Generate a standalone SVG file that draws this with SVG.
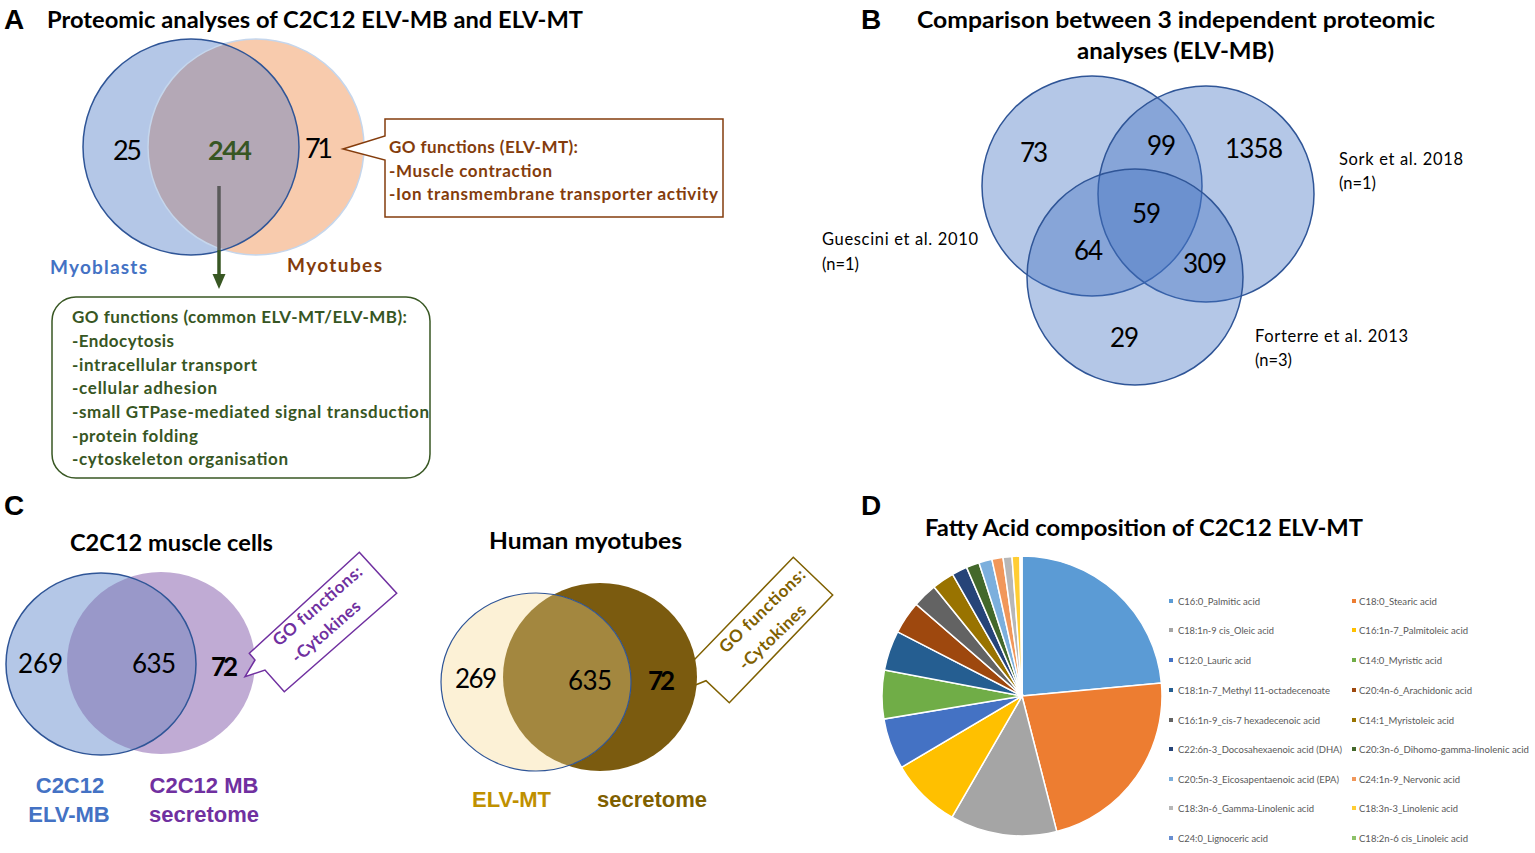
<svg xmlns="http://www.w3.org/2000/svg" width="1535" height="853" viewBox="0 0 1535 853">
<style>
.c{font-family:Lato,"Open Sans","Liberation Sans",sans-serif}
.a{font-family:"Liberation Sans",Arial,sans-serif;font-weight:bold}
.b{font-weight:bold}
.h{font-family:"Liberation Sans",Arial,sans-serif;font-weight:bold;font-size:28px}
.t{font-size:22px;font-weight:bold}
.n{font-size:27px}
.lg{font-size:9.8px;fill:#595959}
.sl{stroke:#fff;stroke-width:1.5}
</style>
<defs>
<clipPath id="clipA"><circle cx="191" cy="147" r="108"/></clipPath>
<clipPath id="clipC1"><ellipse cx="101" cy="664" rx="95" ry="91"/></clipPath>
<clipPath id="clipC2"><ellipse cx="536" cy="682" rx="95" ry="89"/></clipPath>
</defs>
<rect width="1535" height="853" fill="#fff"/>

<!-- Panel A -->
<g id="panelA-title">
<text class="h" x="4" y="29">A</text>
<text class="c t" x="47" y="28" textLength="536" lengthAdjust="spacingAndGlyphs">Proteomic analyses of C2C12 ELV-MB and ELV-MT</text>
</g>
<g id="venn-A">
<circle cx="256" cy="147" r="108" fill="#f8cbad"/>
<circle cx="191" cy="147" r="108" fill="#b4c7e7"/>
<circle cx="256" cy="147" r="108" fill="#b4a8b6" clip-path="url(#clipA)"/>
<circle cx="256" cy="147" r="108" fill="none" stroke="#c5d6ec" stroke-width="1.5"/>
<circle cx="191" cy="147" r="108" fill="none" stroke="#2f5597" stroke-width="1.5"/>
<text class="c n" x="113" y="160" textLength="29">25</text>
<text class="c n b" x="208" y="160" fill="#375623" textLength="44">244</text>
<text class="c n" x="305" y="158" textLength="28">71</text>
</g>
<g id="label-myoblasts"><text class="c b" x="50" y="274" font-size="19" fill="#4472c4" textLength="97">Myoblasts</text></g>
<g id="label-myotubes"><text class="c b" x="287" y="272" font-size="19" fill="#843c0c" textLength="95">Myotubes</text></g>
<g id="connectors">
<line x1="219" y1="186" x2="219" y2="250" stroke="#5a5a5a" stroke-width="3.5"/>
<line x1="219" y1="250" x2="219" y2="276" stroke="#385723" stroke-width="3.5"/>
<polygon points="212.5,274 225.5,274 219,289" fill="#385723"/>
</g>
<g id="callout-MT">
<path d="M385,119 H723 V217 H385 V160 L343,149 L385,136 Z" fill="#fff" stroke="#843c0c" stroke-width="1.5"/>
<g class="c b" font-size="17" fill="#843c0c">
<text x="389" y="153" textLength="189">GO functions (ELV-MT):</text>
<text x="389" y="177" textLength="163">-Muscle contraction</text>
<text x="389" y="200" textLength="329">-Ion transmembrane transporter activity</text>
</g>
</g>
<g id="box-common">
<rect x="52" y="297" width="378" height="181" rx="24" fill="#fff" stroke="#385723" stroke-width="1.5"/>
<g class="c b" font-size="17" fill="#375623">
<text x="72" y="323" textLength="335">GO functions (common ELV-MT/ELV-MB):</text>
<text x="72" y="347" textLength="102">-Endocytosis</text>
<text x="72" y="371" textLength="185">-intracellular transport</text>
<text x="72" y="394" textLength="145">-cellular adhesion</text>
<text x="72" y="418" textLength="357">-small GTPase-mediated signal transduction</text>
<text x="72" y="442" textLength="126">-protein folding</text>
<text x="72" y="465" textLength="216">-cytoskeleton organisation</text>
</g>
</g>

<!-- Panel B -->
<g id="panelB-title">
<text class="h" x="861" y="29">B</text>
<text class="c t" x="917" y="28" textLength="518" lengthAdjust="spacingAndGlyphs">Comparison between 3 independent proteomic</text>
<text class="c t" x="1077" y="59" textLength="197" lengthAdjust="spacingAndGlyphs">analyses (ELV-MB)</text>
</g>
<g id="venn-B">
<g fill="#4472c4" fill-opacity="0.4" stroke="#2f5597" stroke-width="1.5">
<circle cx="1092" cy="186" r="110"/>
<circle cx="1206" cy="194" r="108"/>
<circle cx="1135" cy="277" r="108"/>
</g>
<g class="c" font-size="26">
<text x="1020" y="162" textLength="28">73</text>
<text x="1147" y="155" textLength="29">99</text>
<text x="1225" y="158" textLength="58">1358</text>
<text x="1132" y="223" textLength="29">59</text>
<text x="1074" y="260" textLength="29">64</text>
<text x="1183" y="273" textLength="44">309</text>
<text x="1110" y="347" textLength="29">29</text>
</g>
</g>
<g id="label-sork" class="c" font-size="16.5"><text x="1339" y="165" textLength="124">Sork et al. 2018</text><text x="1339" y="189">(n=1)</text></g>
<g id="label-guescini" class="c" font-size="16.5"><text x="822" y="245" textLength="156">Guescini et al. 2010</text><text x="822" y="270">(n=1)</text></g>
<g id="label-forterre" class="c" font-size="16.5"><text x="1255" y="342" textLength="153">Forterre et al. 2013</text><text x="1255" y="366">(n=3)</text></g>

<!-- Panel C -->
<g id="panelC-title">
<text class="h" x="4" y="515">C</text>
<text class="c t" x="70" y="551" textLength="203" lengthAdjust="spacingAndGlyphs">C2C12 muscle cells</text>
<text class="c t" x="489" y="549" textLength="193" lengthAdjust="spacingAndGlyphs">Human myotubes</text>
</g>
<g id="venn-C1">
<ellipse cx="161" cy="663" rx="94" ry="91" fill="#c0abd4"/>
<ellipse cx="101" cy="664" rx="95" ry="91" fill="#b4c7e7"/>
<ellipse cx="161" cy="663" rx="94" ry="91" fill="#9998c9" clip-path="url(#clipC1)"/>
<ellipse cx="101" cy="664" rx="95" ry="91" fill="none" stroke="#2f5597" stroke-width="1.5"/>
<g class="c" font-size="26">
<text x="18" y="673" textLength="45">269</text>
<text x="132" y="673" textLength="44">635</text>
<text x="211" y="676" class="b" textLength="27">72</text>
</g>
</g>
<g id="callout-C1">
<path d="M359.3,552.3 L396.7,593.3 L284.3,691.7 L265,670 L245,676.7 L255,660 L249.3,653.3 Z" fill="#fff" stroke="#7030a0" stroke-width="1.5"/>
<g class="c b" font-size="17" fill="#7030a0" transform="translate(279,647) rotate(-41)">
<text x="0" y="0" textLength="112">GO functions:</text>
<text x="3" y="25" textLength="85">-Cytokines</text>
</g>
</g>
<g id="label-C2C12-ELVMB" class="a" font-size="22" fill="#4472c4" text-anchor="middle"><text x="70" y="793">C2C12</text><text x="69" y="822">ELV-MB</text></g>
<g id="label-C2C12-secretome" class="a" font-size="22" fill="#7030a0" text-anchor="middle"><text x="204" y="793">C2C12 MB</text><text x="204" y="822">secretome</text></g>

<g id="callout-C2">
<path d="M793.3,557.3 L832.7,595 L729.3,702.7 L706,680.7 L688,688 L694,660 Z" fill="#fff" stroke="#7f6000" stroke-width="1.5"/>
<g class="c b" font-size="17" fill="#7f6000" transform="translate(726,654) rotate(-44)">
<text x="0" y="0" textLength="112">GO functions:</text>
<text x="2" y="26" textLength="86">-Cytokines</text>
</g>
</g>
<g id="venn-C2">
<ellipse cx="600" cy="677" rx="97" ry="94" fill="#7b5b0f"/>
<ellipse cx="536" cy="682" rx="95" ry="89" fill="#fcf1d6"/>
<ellipse cx="600" cy="677" rx="97" ry="94" fill="#a3873f" clip-path="url(#clipC2)"/>
<ellipse cx="536" cy="682" rx="95" ry="89" fill="none" stroke="#2f5597" stroke-width="1.2"/>
<g class="c" font-size="26">
<text x="455" y="688" textLength="42">269</text>
<text x="568" y="690" textLength="44">635</text>
<text x="648" y="690" class="b" textLength="27">72</text>
</g>
</g>
<g id="label-ELVMT" class="a" font-size="22" fill="#bf9000"><text x="472" y="807">ELV-MT</text></g>
<g id="label-secretome" class="a" font-size="22" fill="#7f6000"><text x="597" y="807">secretome</text></g>

<!-- Panel D -->
<g id="panelD-title">
<text class="h" x="861" y="515">D</text>
<text class="c t" x="925" y="536" textLength="438" lengthAdjust="spacingAndGlyphs">Fatty Acid composition of C2C12 ELV-MT</text>
</g>
<g id="pie">
<path class="sl" fill="#5b9bd5" d="M1022,696 L1022,556 A140,140 0 0 1 1161.4,683.1 Z"/>
<path class="sl" fill="#ed7d31" d="M1022,696 L1161.4,683.1 A140,140 0 0 1 1056.8,831.6 Z"/>
<path class="sl" fill="#a5a5a5" d="M1022,696 L1056.8,831.6 A140,140 0 0 1 952,817.2 Z"/>
<path class="sl" fill="#ffc000" d="M1022,696 L952,817.2 A140,140 0 0 1 901.5,767.3 Z"/>
<path class="sl" fill="#4472c4" d="M1022,696 L901.5,767.3 A140,140 0 0 1 883.9,719.1 Z"/>
<path class="sl" fill="#70ad47" d="M1022,696 L883.9,719.1 A140,140 0 0 1 884.4,670 Z"/>
<path class="sl" fill="#255e91" d="M1022,696 L884.4,670 A140,140 0 0 1 897.6,631.8 Z"/>
<path class="sl" fill="#9e480e" d="M1022,696 L897.6,631.8 A140,140 0 0 1 916.2,604.3 Z"/>
<path class="sl" fill="#636363" d="M1022,696 L916.2,604.3 A140,140 0 0 1 934.1,587 Z"/>
<path class="sl" fill="#997300" d="M1022,696 L934.1,587 A140,140 0 0 1 952.6,574.4 Z"/>
<path class="sl" fill="#264478" d="M1022,696 L952.6,574.4 A140,140 0 0 1 966.6,567.4 Z"/>
<path class="sl" fill="#43682b" d="M1022,696 L966.6,567.4 A140,140 0 0 1 979,562.8 Z"/>
<path class="sl" fill="#7cafdd" d="M1022,696 L979,562.8 A140,140 0 0 1 991.9,559.3 Z"/>
<path class="sl" fill="#f1975a" d="M1022,696 L991.9,559.3 A140,140 0 0 1 1003,557.3 Z"/>
<path class="sl" fill="#b7b7b7" d="M1022,696 L1003,557.3 A140,140 0 0 1 1012,556.4 Z"/>
<path class="sl" fill="#ffcd33" d="M1022,696 L1012,556.4 A140,140 0 0 1 1020,556 Z"/>
<path class="sl" fill="#698ed0" d="M1022,696 L1020,556 A140,140 0 0 1 1021,556 Z"/>
<path class="sl" fill="#8cc168" d="M1022,696 L1021,556 A140,140 0 0 1 1022,556 Z"/>
</g>
<g id="legend" class="c lg">
<rect x="1169" y="599" width="4" height="4" fill="#5b9bd5"/><text x="1178" y="605" textLength="82" lengthAdjust="spacingAndGlyphs">C16:0_Palmitic acid</text>
<rect x="1169" y="628" width="4" height="4" fill="#a5a5a5"/><text x="1178" y="634" textLength="96" lengthAdjust="spacingAndGlyphs">C18:1n-9 cis_Oleic acid</text>
<rect x="1169" y="658" width="4" height="4" fill="#4472c4"/><text x="1178" y="664" textLength="73" lengthAdjust="spacingAndGlyphs">C12:0_Lauric acid</text>
<rect x="1169" y="688" width="4" height="4" fill="#255e91"/><text x="1178" y="694" textLength="152" lengthAdjust="spacingAndGlyphs">C18:1n-7_Methyl 11-octadecenoate</text>
<rect x="1169" y="718" width="4" height="4" fill="#636363"/><text x="1178" y="724" textLength="142" lengthAdjust="spacingAndGlyphs">C16:1n-9_cis-7 hexadecenoic acid</text>
<rect x="1169" y="747" width="4" height="4" fill="#264478"/><text x="1178" y="753" textLength="164" lengthAdjust="spacingAndGlyphs">C22:6n-3_Docosahexaenoic acid (DHA)</text>
<rect x="1169" y="777" width="4" height="4" fill="#7cafdd"/><text x="1178" y="783" textLength="161" lengthAdjust="spacingAndGlyphs">C20:5n-3_Eicosapentaenoic acid (EPA)</text>
<rect x="1169" y="806" width="4" height="4" fill="#b7b7b7"/><text x="1178" y="812" textLength="136" lengthAdjust="spacingAndGlyphs">C18:3n-6_Gamma-Linolenic acid</text>
<rect x="1169" y="836" width="4" height="4" fill="#698ed0"/><text x="1178" y="842" textLength="90" lengthAdjust="spacingAndGlyphs">C24:0_Lignoceric acid</text>
<rect x="1352" y="599" width="4" height="4" fill="#ed7d31"/><text x="1359" y="605" textLength="78" lengthAdjust="spacingAndGlyphs">C18:0_Stearic acid</text>
<rect x="1352" y="628" width="4" height="4" fill="#ffc000"/><text x="1359" y="634" textLength="109" lengthAdjust="spacingAndGlyphs">C16:1n-7_Palmitoleic acid</text>
<rect x="1352" y="658" width="4" height="4" fill="#70ad47"/><text x="1359" y="664" textLength="83" lengthAdjust="spacingAndGlyphs">C14:0_Myristic acid</text>
<rect x="1352" y="688" width="4" height="4" fill="#9e480e"/><text x="1359" y="694" textLength="113" lengthAdjust="spacingAndGlyphs">C20:4n-6_Arachidonic acid</text>
<rect x="1352" y="718" width="4" height="4" fill="#997300"/><text x="1359" y="724" textLength="95" lengthAdjust="spacingAndGlyphs">C14:1_Myristoleic acid</text>
<rect x="1352" y="747" width="4" height="4" fill="#43682b"/><text x="1359" y="753" textLength="170" lengthAdjust="spacingAndGlyphs">C20:3n-6_Dihomo-gamma-linolenic acid</text>
<rect x="1352" y="777" width="4" height="4" fill="#f1975a"/><text x="1359" y="783" textLength="101" lengthAdjust="spacingAndGlyphs">C24:1n-9_Nervonic acid</text>
<rect x="1352" y="806" width="4" height="4" fill="#ffcd33"/><text x="1359" y="812" textLength="99" lengthAdjust="spacingAndGlyphs">C18:3n-3_Linolenic acid</text>
<rect x="1352" y="836" width="4" height="4" fill="#8cc168"/><text x="1359" y="842" textLength="109" lengthAdjust="spacingAndGlyphs">C18:2n-6 cis_Linoleic acid</text>
</g>
</svg>
